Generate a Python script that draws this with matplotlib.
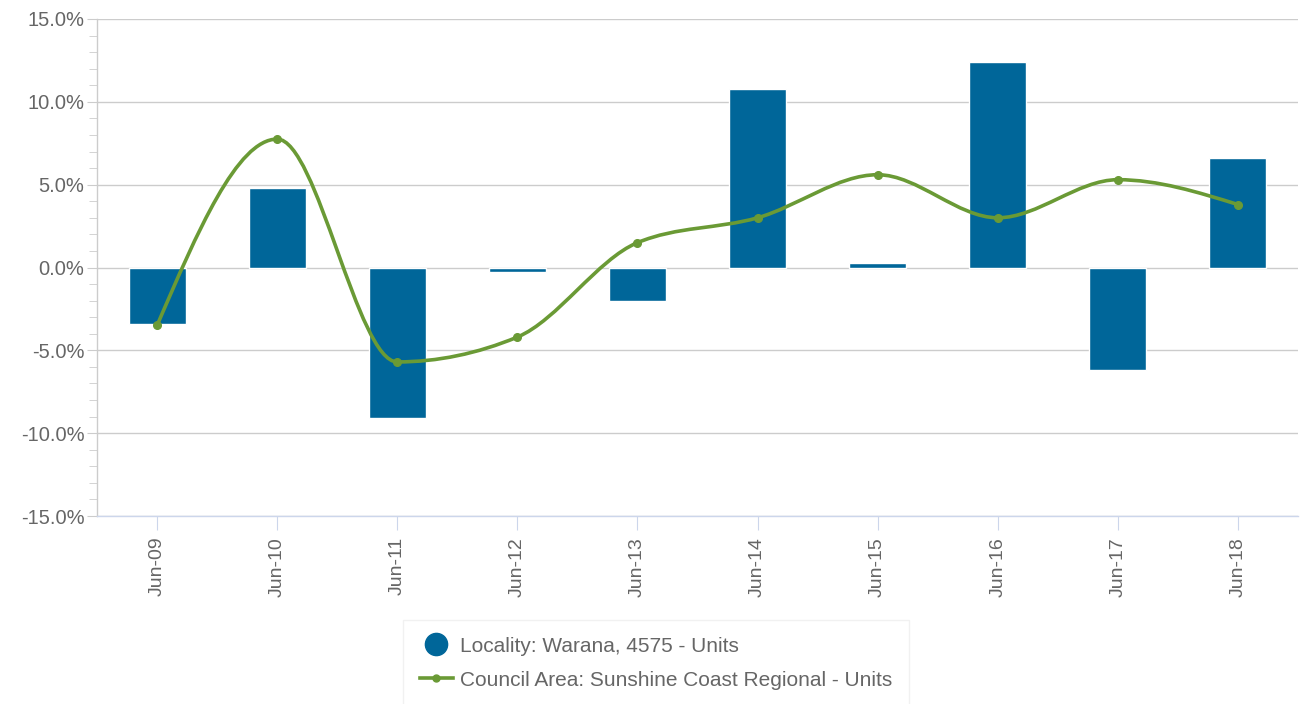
import numpy as np
import matplotlib
matplotlib.use("Agg")
import matplotlib.pyplot as plt
from matplotlib.path import Path
from matplotlib.patches import PathPatch
from matplotlib.lines import Line2D
from matplotlib.ticker import MultipleLocator, FuncFormatter

plt.rcParams['font.family'] = ['Liberation Sans', 'DejaVu Sans']

# Data
categories = ['Jun-09', 'Jun-10', 'Jun-11', 'Jun-12', 'Jun-13',
              'Jun-14', 'Jun-15', 'Jun-16', 'Jun-17', 'Jun-18']
locality = [-3.4, 4.8, -9.1, -0.3, -2.0, 10.8, 0.3, 12.4, -6.2, 6.6]
council = [-3.5, 7.75, -5.7, -4.2, 1.5, 3.0, 5.6, 3.0, 5.3, 3.8]

bar_color = '#006699'
line_color = '#6a9a35'
text_color = '#666666'

fig = plt.figure(figsize=(13, 7.04), dpi=100)
ax = fig.add_axes([97 / 1300, 1 - 516 / 704, 1201 / 1300, 497 / 704])

x = np.arange(len(categories))
ax.bar(x, locality, width=0.475, color=bar_color, edgecolor='white', linewidth=1, zorder=2)


# monotone cubic curve through the points (bezier segments)
def monotone_path(xs, ys):
    xs = np.asarray(xs, float)
    ys = np.asarray(ys, float)
    n = len(xs)
    t = np.zeros(n)
    for i in range(1, n - 1):
        h0 = xs[i] - xs[i - 1]
        h1 = xs[i + 1] - xs[i]
        s0 = (ys[i] - ys[i - 1]) / h0
        s1 = (ys[i + 1] - ys[i]) / h1
        p = (s0 * h1 + s1 * h0) / (h0 + h1)
        t[i] = (np.sign(s0) + np.sign(s1)) * min(abs(s0), abs(s1), 0.5 * abs(p))
    t[0] = (3 * (ys[1] - ys[0]) / (xs[1] - xs[0]) - t[1]) / 2
    t[-1] = (3 * (ys[-1] - ys[-2]) / (xs[-1] - xs[-2]) - t[-2]) / 2
    verts = [(xs[0], ys[0])]
    codes = [Path.MOVETO]
    for i in range(n - 1):
        dx = (xs[i + 1] - xs[i]) / 3
        verts += [(xs[i] + dx, ys[i] + dx * t[i]),
                  (xs[i + 1] - dx, ys[i + 1] - dx * t[i + 1]),
                  (xs[i + 1], ys[i + 1])]
        codes += [Path.CURVE4] * 3
    return Path(verts, codes)


path = monotone_path(x, council)
ax.add_patch(PathPatch(path, facecolor='none', edgecolor=line_color, linewidth=2.6,
                       zorder=3, capstyle='round'))
ax.plot(x, council, 'o', color=line_color, markersize=5.5, zorder=4)

ax.set_xlim(-0.5, 9.5)
ax.set_ylim(-15, 15)

ax.yaxis.set_major_locator(MultipleLocator(5))
ax.yaxis.set_minor_locator(MultipleLocator(1))
ax.yaxis.set_major_formatter(FuncFormatter(lambda v, p: f'{v:.1f}%'))
ax.grid(axis='y', which='major', color='#cccccc', linewidth=1, zorder=0)
ax.set_axisbelow(True)

ax.set_xticks(x)
ax.set_xticklabels(categories, rotation=90)

for s in ['top', 'right']:
    ax.spines[s].set_visible(False)
ax.spines['left'].set_color('#cccccc')
ax.spines['bottom'].set_color('#ccd6eb')
ax.spines['left'].set_linewidth(1)
ax.spines['bottom'].set_linewidth(1)

ax.tick_params(axis='y', which='major', length=7, color='#cccccc', labelsize=14.5,
               labelcolor=text_color, pad=2)
ax.tick_params(axis='y', which='minor', length=6, color='#cccccc')
ax.tick_params(axis='x', length=10, color='#ccd6eb', labelsize=14,
               labelcolor=text_color, pad=5)

handles = [
    Line2D([0], [0], marker='o', color='w', markerfacecolor=bar_color, markeredgecolor=bar_color,
           markersize=16, label='Locality: Warana, 4575 - Units'),
    Line2D([0], [0], marker='o', color=line_color, lw=2.6, markersize=5,
           label='Council Area: Sunshine Coast Regional - Units'),
]
leg = fig.legend(handles=handles, loc='upper left', bbox_to_anchor=(403 / 1300, 1 - 620 / 704),
                 frameon=True, fancybox=False, fontsize=15, labelcolor=text_color,
                 handlelength=1.6, handletextpad=0.35, borderpad=0.8, labelspacing=0.72,
                 borderaxespad=0)
leg.get_frame().set_edgecolor('#eeeeee')
leg.get_frame().set_linewidth(1)

fig.savefig('out.png', dpi=100)
